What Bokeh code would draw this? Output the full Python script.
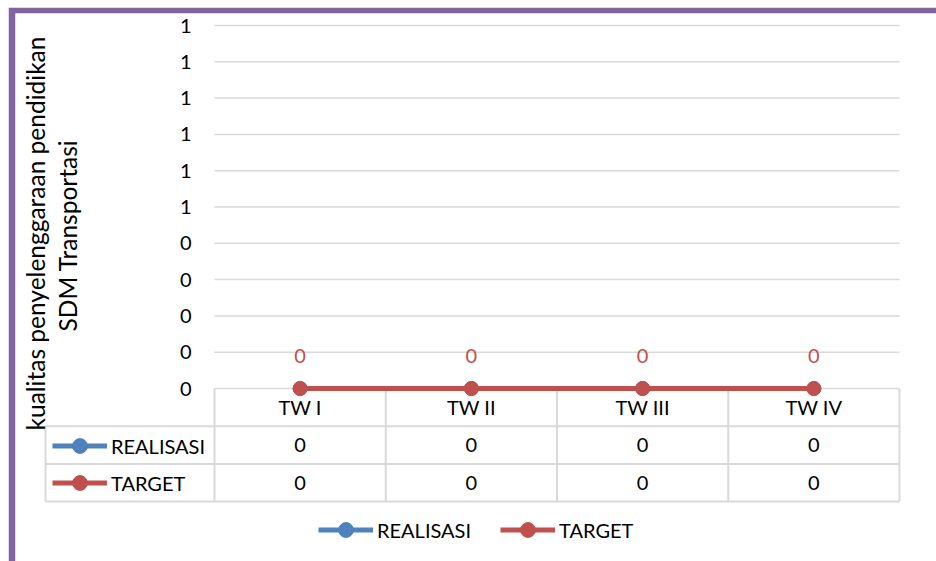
import math
from bokeh.plotting import figure
from bokeh.models import LinearAxis, FixedTicker, Legend, LegendItem
from bokeh.core.properties import value
from bokeh.embed import file_html
from bokeh.resources import INLINE

# ---------------- data ----------------
categories = ["TW I", "TW II", "TW III", "TW IV"]
realisasi = [0, 0, 0, 0]
target = [0, 0, 0, 0]
series_names = ["REALISASI", "TARGET"]
tick_values = [0.0, 0.1, 0.2, 0.3, 0.4, 0.5, 0.6, 0.7, 0.8, 0.9, 1.0]
tick_labels = ["0", "0", "0", "0", "0", "1", "1", "1", "1", "1", "1"]
y_title = ["kualitas penyelenggaraan pendidikan", "SDM Transportasi"]

# ---------------- style ----------------
BLUE = "#4F81BD"
RED = "#C0504D"
PURPLE = "#8064A2"
GRID = "#D9D9D9"
FONT = "Lato"
FS = "20px"
FS_TITLE = "24.5px"

# ---------------- layout (page pixels) ----------------
OX, OY = 8, 7                    # figure offset on the page
W, H = 928, 554
BL, BT = 7, 6                    # purple border widths
frame_left, frame_top = OX + BL, OY + BT
frame_right, frame_bottom = OX + W, OY + H
plot_left, plot_right = 214, 899
plot_top, plot_bottom = 25, 388
n = len(categories)
xs = (plot_right - plot_left) / n
ys = (plot_bottom - plot_top) / max(tick_values)

def X(px):
    return (px - plot_left) / xs

def Y(py):
    return (plot_bottom - py) / ys

p = figure(width=W, height=H, output_backend="svg", toolbar_location=None,
           x_range=(X(frame_left), X(frame_right)),
           y_range=(Y(frame_bottom), Y(frame_top)),
           x_axis_type=None, y_axis_type=None,
           min_border_left=BL, min_border_top=BT, min_border_right=0, min_border_bottom=0,
           border_fill_color=PURPLE, background_fill_color="white",
           outline_line_color=None)
p.margin = (OY, 0, 0, OX)
p.xgrid.visible = False
p.ygrid.visible = False

# gridlines over the plot area
p.segment(x0=[0] * len(tick_values), x1=[n] * len(tick_values),
          y0=tick_values, y1=tick_values, line_color=GRID, line_width=1.5)

# data table grid
row_h = 37.7 / ys
tbl_left = X(45)
hx0, hx1, hy = [], [], []
for k in (1, 2, 3):
    hx0.append(tbl_left); hx1.append(n); hy.append(-k * row_h)
p.segment(x0=hx0, x1=hx1, y0=hy, y1=hy, line_color=GRID, line_width=2)
vx = list(range(n + 1))
p.segment(x0=vx, x1=vx, y0=[0] * len(vx), y1=[-3 * row_h] * len(vx),
          line_color=GRID, line_width=2)
p.segment(x0=[tbl_left], x1=[tbl_left], y0=[-row_h], y1=[-3 * row_h],
          line_color=GRID, line_width=2)

cx = [i + 0.5 for i in range(n)]
# table texts
p.text(x=cx, y=[-0.5 * row_h] * n, text=categories, text_align="center",
       text_baseline="middle", text_font=value(FONT), text_font_size=FS, text_color="black")
p.text(x=cx, y=[-1.5 * row_h] * n, text=[str(v) for v in realisasi], text_align="center",
       text_baseline="middle", text_font=value(FONT), text_font_size=FS, text_color="black")
p.text(x=cx, y=[-2.5 * row_h] * n, text=[str(v) for v in target], text_align="center",
       text_baseline="middle", text_font=value(FONT), text_font_size=FS, text_color="black")

# series
lr = p.line(x=cx, y=realisasi, line_color=BLUE, line_width=5)
mr = p.scatter(x=cx, y=realisasi, size=14, fill_color=BLUE, line_color=BLUE)
lt = p.line(x=cx, y=target, line_color=RED, line_width=5)
mt = p.scatter(x=cx, y=target, size=14, fill_color=RED, line_color=RED)

# data labels
p.text(x=cx, y=target, text=[str(v) for v in target], y_offset=-33,
       text_align="center", text_baseline="middle", text_font=value(FONT),
       text_font_size=FS, text_color=RED)

# y axis
yaxis = LinearAxis(fixed_location=0, bounds=(0, max(tick_values)),
                   ticker=FixedTicker(ticks=tick_values),
                   major_label_overrides={v: l for v, l in zip(tick_values, tick_labels)},
                   axis_line_color=None, major_tick_line_color=None, minor_tick_line_color=None,
                   major_tick_out=0, major_tick_in=0,
                   major_label_standoff=23, major_label_text_font=FONT,
                   major_label_text_font_size=FS, major_label_text_color="black")
p.add_layout(yaxis, "left")

# axis title
p.text(x=[X(35), X(67)], y=[Y(233), Y(235)], text=y_title, angle=math.pi / 2,
       text_align="center", text_baseline="middle", text_font=value(FONT),
       text_font_size=FS_TITLE, text_color="black")

common = dict(border_line_color=None, background_fill_alpha=0, padding=0, margin=0,
              glyph_width=55, glyph_height=37, label_height=37, label_standoff=4,
              label_text_font=FONT, label_text_font_size=FS, label_text_color="black")

# legend keys in the table
leg_tbl = Legend(items=[LegendItem(label=series_names[0], renderers=[lr, mr]),
                        LegendItem(label=series_names[1], renderers=[lt, mt])],
                 location=(52 - frame_left, frame_bottom - 501), orientation="vertical",
                 spacing=0, **common)
p.add_layout(leg_tbl, "center")

# bottom legend
leg_bot = Legend(items=[LegendItem(label=series_names[0], renderers=[lr, mr]),
                        LegendItem(label=series_names[1], renderers=[lt, mt])],
                 location=(318 - frame_left, frame_bottom - 548), orientation="horizontal",
                 spacing=29, **common)
p.add_layout(leg_bot, "center")

open("out.html", "w").write(file_html(p, INLINE))
